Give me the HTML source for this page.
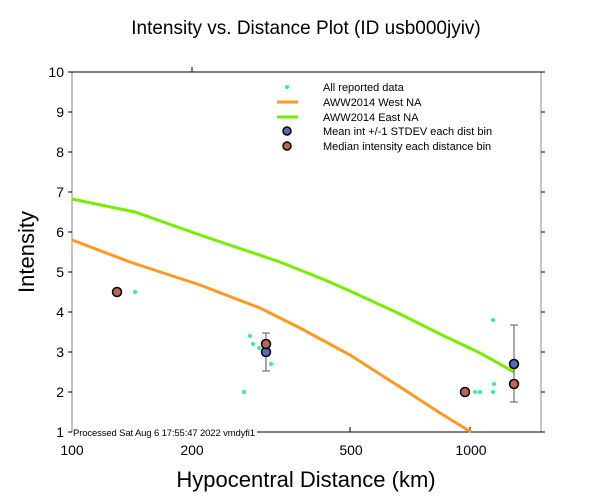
<!DOCTYPE html>
<html><head><style>body{margin:0;background:#fff}svg{display:block}text{font-family:"Liberation Sans",sans-serif}</style></head><body>
<svg width="612" height="504" xmlns="http://www.w3.org/2000/svg">
<rect width="612" height="504" fill="#fff"/>
<text x="306" y="34" font-size="19" text-anchor="middle">Intensity vs. Distance Plot (ID usb000jyiv)</text>
<line x1="72" y1="72" x2="72" y2="432" stroke="#888"/>
<line x1="541" y1="72" x2="541" y2="432" stroke="#888"/>
<line x1="72" y1="72" x2="541" y2="72" stroke="#000"/>
<line x1="257" y1="432" x2="541" y2="432" stroke="#000"/>
<g stroke="#000">
<line x1="68" y1="72" x2="72" y2="72"/><line x1="68" y1="112" x2="72" y2="112"/><line x1="68" y1="152" x2="72" y2="152"/><line x1="68" y1="192" x2="72" y2="192"/><line x1="68" y1="232" x2="72" y2="232"/><line x1="68" y1="272" x2="72" y2="272"/><line x1="68" y1="312" x2="72" y2="312"/><line x1="68" y1="352" x2="72" y2="352"/><line x1="68" y1="392" x2="72" y2="392"/><line x1="68" y1="432" x2="72" y2="432"/>
<line x1="541" y1="72" x2="545" y2="72"/><line x1="541" y1="112" x2="545" y2="112"/><line x1="541" y1="152" x2="545" y2="152"/><line x1="541" y1="192" x2="545" y2="192"/><line x1="541" y1="232" x2="545" y2="232"/><line x1="541" y1="272" x2="545" y2="272"/><line x1="541" y1="312" x2="545" y2="312"/><line x1="541" y1="352" x2="545" y2="352"/><line x1="541" y1="392" x2="545" y2="392"/><line x1="541" y1="432" x2="545" y2="432"/>
<line x1="192" y1="72" x2="192" y2="67"/><line x1="350" y1="427" x2="350" y2="432"/><line x1="470" y1="427" x2="470" y2="432"/>
</g>
<g font-size="14" text-anchor="end">
<text x="64" y="77">10</text><text x="64" y="117">9</text><text x="64" y="157">8</text><text x="64" y="197">7</text><text x="64" y="237">6</text><text x="64" y="277">5</text><text x="64" y="317">4</text><text x="64" y="357">3</text><text x="64" y="397">2</text><text x="64" y="437">1</text>
</g>
<g font-size="14" text-anchor="middle">
<text x="72" y="455">100</text><text x="192" y="455">200</text><text x="351" y="455">500</text><text x="471" y="455">1000</text>
</g>
<line x1="69" y1="432" x2="72" y2="432" stroke="#000"/>
<text x="73" y="436" font-size="9.5" textLength="182">Processed Sat Aug  6 17:55:47 2022 vmdyfi1</text>
<text x="306" y="487" font-size="22" text-anchor="middle">Hypocentral Distance (km)</text>
<text transform="translate(34,252) rotate(-90)" font-size="22" text-anchor="middle">Intensity</text>
<polyline fill="none" stroke="#77ee00" stroke-width="3" points="72,199 135,212 200,235 280,262 325,280 350,291 400,314 440,334 480,353 514,372"/>
<polyline fill="none" stroke="#ff9922" stroke-width="3" points="72,240 130,262 200,285 260,308 300,328 350,355 400,387 440,413 471,432"/>
<g fill="#33ee99">
<circle cx="135" cy="292" r="2"/><circle cx="244" cy="392" r="2"/><circle cx="250" cy="336" r="2"/><circle cx="253" cy="344" r="2"/><circle cx="259" cy="348" r="2"/><circle cx="271" cy="364" r="2"/><circle cx="475" cy="392" r="2"/><circle cx="480" cy="392" r="2"/><circle cx="493" cy="320" r="2"/><circle cx="494" cy="384" r="2"/><circle cx="493" cy="392" r="2"/>
</g>
<g stroke="#555" fill="none">
<path d="M266 333V371M262 333H270M262 371H270"/><path d="M514 325V402M510 325H518M510 402H518"/>
</g>
<g stroke="#000" stroke-width="1.5">
<circle cx="117" cy="292" r="4.5" fill="#bb6655"/><circle cx="266" cy="352" r="4.5" fill="#5566bb"/><circle cx="266" cy="344" r="4.5" fill="#bb6655"/><circle cx="465" cy="392" r="4.5" fill="#bb6655"/><circle cx="514" cy="364" r="4.5" fill="#5566bb"/><circle cx="514" cy="384" r="4.5" fill="#bb6655"/>
</g>
<g font-size="11">
<circle cx="287" cy="87" r="2" fill="#33ee99"/><text x="323" y="91">All reported data</text>
<line x1="277" y1="102" x2="298" y2="102" stroke="#ff9922" stroke-width="3"/><text x="323" y="106">AWW2014 West NA</text>
<line x1="277" y1="117" x2="298" y2="117" stroke="#77ee00" stroke-width="3"/><text x="323" y="121">AWW2014 East NA</text>
<circle cx="287" cy="131" r="4" fill="#5566bb" stroke="#000" stroke-width="1.5"/><text x="323" y="135">Mean int +/-1 STDEV each dist bin</text>
<circle cx="287" cy="146" r="4" fill="#bb6655" stroke="#000" stroke-width="1.5"/><text x="323" y="150">Median intensity each distance bin</text>
</g>
</svg>
</body></html>
